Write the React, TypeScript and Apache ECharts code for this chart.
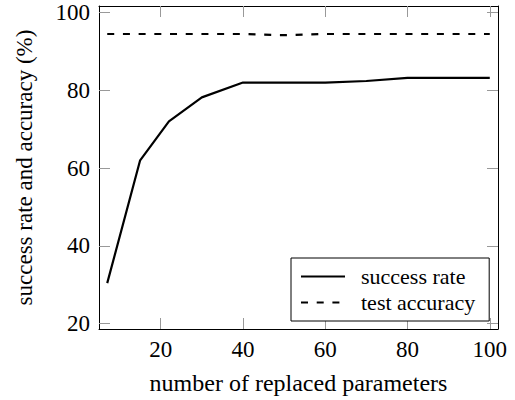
import React, { useEffect, useRef } from "react";
import * as echarts from "echarts";

const xValues = [7, 15, 22, 30, 40, 50, 60, 70, 80, 90, 100];
const successRate = [30.4, 62.0, 72.0, 78.2, 82.0, 82.0, 82.0, 82.4, 83.2, 83.2, 83.2];
const testAccuracy = [94.5, 94.5, 94.5, 94.5, 94.5, 94.2, 94.5, 94.5, 94.5, 94.5, 94.5];
const xTicks = [20, 40, 60, 80, 100];
const yTicks = [20, 40, 60, 80, 100];

const FONT = '"Liberation Serif", "Times New Roman", Times, serif';

export default function App() {
  const ref = useRef<HTMLDivElement>(null);
  useEffect(() => {
    if (!ref.current) return;
    const chart = echarts.init(ref.current, undefined, { renderer: "svg" });
    const tickStyle = { show: true, inside: true, length: 11, lineStyle: { color: "#999", width: 1 } };
    const axisLine = { show: true, onZero: false, lineStyle: { color: "#000", width: 1 } };
    const xCommon = {
      type: "value" as const,
      min: 5,
      max: 102,
      splitLine: { show: false },
      axisLine,
    };
    const yCommon = {
      type: "value" as const,
      min: 18.6,
      max: 101.7,
      splitLine: { show: false },
      axisLine,
    };
    chart.setOption({
      animation: false,
      textStyle: { fontFamily: FONT },
      grid: { left: 99, top: 6, right: 17, bottom: 67, containLabel: false },
      xAxis: [
        {
          ...xCommon,
          position: "bottom",
          name: "number of replaced parameters",
          nameLocation: "middle",
          nameGap: 42,
          nameTextStyle: { fontFamily: FONT, fontSize: 24, color: "#000" },
          axisTick: { ...tickStyle, customValues: xTicks },
          axisLabel: { customValues: xTicks, fontFamily: FONT, fontSize: 23, color: "#000", margin: 9 },
        },
        {
          ...xCommon,
          position: "top",
          axisTick: { ...tickStyle, customValues: xTicks },
          axisLabel: { show: false },
        },
      ],
      yAxis: [
        {
          ...yCommon,
          position: "left",
          name: "success rate and accuracy (%)",
          nameLocation: "middle",
          nameGap: 63,
          nameTextStyle: { fontFamily: FONT, fontSize: 23, color: "#000" },
          axisTick: { ...tickStyle, customValues: yTicks },
          axisLabel: { customValues: yTicks, fontFamily: FONT, fontSize: 23, color: "#000", margin: 9 },
        },
        {
          ...yCommon,
          position: "right",
          axisTick: { ...tickStyle, customValues: yTicks },
          axisLabel: { show: false },
        },
      ],
      legend: {
        orient: "vertical",
        left: 291,
        top: 258,
        padding: [7, 14, 7, 9],
        itemGap: 3,
        itemWidth: 44,
        itemHeight: 20,
        borderColor: "#000",
        borderWidth: 1,
        backgroundColor: "#fff",
        textStyle: { fontFamily: FONT, fontSize: 22, lineHeight: 23, color: "#000", padding: [0, 0, 0, 11] },
        data: [
          { name: "success rate", itemStyle: { opacity: 0 } },
          { name: "test accuracy", itemStyle: { opacity: 0 } },
        ],
      },
      series: [
        {
          name: "success rate",
          type: "line",
          xAxisIndex: 0,
          yAxisIndex: 0,
          symbol: "none",
          data: xValues.map((x, i) => [x, successRate[i]]),
          lineStyle: { color: "#000", width: 2.2 },
          itemStyle: { color: "#000" },
        },
        {
          name: "test accuracy",
          type: "line",
          xAxisIndex: 0,
          yAxisIndex: 0,
          symbol: "none",
          data: xValues.map((x, i) => [x, testAccuracy[i]]),
          lineStyle: { color: "#000", width: 2.2, type: [7, 8.7] },
          itemStyle: { color: "#000" },
        },
      ],
    });
    return () => chart.dispose();
  }, []);
  return <div ref={ref} style={{ width: 515, height: 400, position: "absolute", left: 0, top: 0 }} />;
}
